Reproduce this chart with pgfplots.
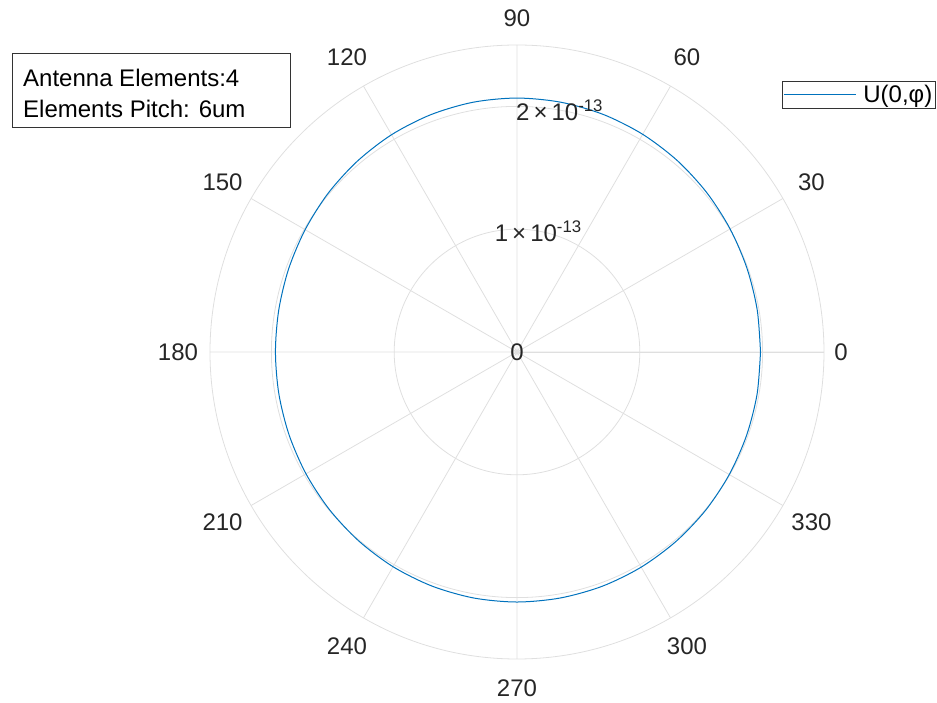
\documentclass[border=0pt]{standalone}
\usepackage{fontspec}
\setmainfont{Liberation Sans}
\usepackage{pgfplots}
\pgfplotsset{compat=1.18}
\usepgfplotslibrary{polar}

\definecolor{mblue}{RGB}{0,114,189}
\definecolor{gridc}{RGB}{223,223,223}
\definecolor{labc}{RGB}{38,38,38}

% U(0,phi), angle in degrees
\pgfplotstableread{
phi  r
0    1.983e-13
10   1.986e-13
20   1.993e-13
30   2.004e-13
40   2.018e-13
50   2.033e-13
60   2.047e-13
70   2.058e-13
80   2.065e-13
90   2.068e-13
100  2.065e-13
110  2.056e-13
120  2.043e-13
130  2.026e-13
140  2.009e-13
150  1.992e-13
160  1.979e-13
170  1.970e-13
180  1.967e-13
190  1.969e-13
200  1.975e-13
210  1.984e-13
220  1.995e-13
230  2.007e-13
240  2.019e-13
250  2.028e-13
260  2.034e-13
270  2.036e-13
280  2.034e-13
290  2.030e-13
300  2.023e-13
310  2.014e-13
320  2.005e-13
330  1.996e-13
340  1.989e-13
350  1.985e-13
360  1.983e-13
}\udata

\begin{document}
\begin{tikzpicture}[font=\fontsize{24}{29}\selectfont]
\begin{polaraxis}[
    width=614pt, height=614pt, scale only axis,
    ymin=0, ymax=2.5e-13,
    xtick={0,30,...,330},
    ytick={0,1e-13,2e-13},
    yticklabels={},
    scaled y ticks=false,
    grid=major,
    major grid style={draw=gridc, line width=0.8pt},
    axis line style={draw=gridc, line width=0.8pt},
    major tick length=0pt,
    % centre of each angle label at a measured distance outside the circle
    xticklabel style={text=labc, inner sep=0pt, anchor=center,
        shift={({\tick}:{(\tick==0 ? 17 : (\tick==90 ? 27 : (\tick==180 ? 32 : (\tick==270 ? 29 : 33))))*1pt})}},
    /pgf/number format/assume math mode=true,
    legend style={at={(axis description cs:0.9316,0.9414)}, anchor=north west,
        draw=black!80, line width=0.8pt, inner xsep=1pt, inner ysep=2pt,
        cells={anchor=west}, font=\fontsize{24}{29}\selectfont,
        /tikz/every odd column/.append style={column sep=5pt}},
    legend image code/.code={\draw[#1, mblue, line width=1pt] (5pt,0pt) -- (77pt,0pt);},
]
    \addplot[mblue, line width=1pt, smooth] table[x=phi, y=r] {\udata};
    \addlegendentry{U(0,φ)}
    \coordinate (C) at (axis cs:0,0);
    % r tick labels, MATLAB puts them along 80 degrees
    \node[text=labc, inner sep=0pt] at (axis cs:80,2e-13) {2\,×\,10\textsuperscript{-13}};
    \node[text=labc, inner sep=0pt] at (axis cs:80,1e-13) {1\,×\,10\textsuperscript{-13}};
    \node[text=labc, inner sep=0pt] at (axis cs:0,0) {0};
\end{polaraxis}
% annotation box
\draw[black!80, line width=0.8pt, fill=white] ([shift={(-505pt,299pt)}]C) rectangle ([shift={(-227pt,225pt)}]C);
\node[anchor=base west, inner sep=0pt] at ([shift={(-494pt,265pt)}]C) {Antenna Elements:4};
\node[anchor=base west, inner sep=0pt] at ([shift={(-494pt,234pt)}]C) {Elements Pitch: 6um};
% page size = reference
\pgfresetboundingbox
\path ([shift={(-517pt,-351pt)}]C) rectangle ([shift={(420pt,352pt)}]C);
\end{tikzpicture}
\end{document}
